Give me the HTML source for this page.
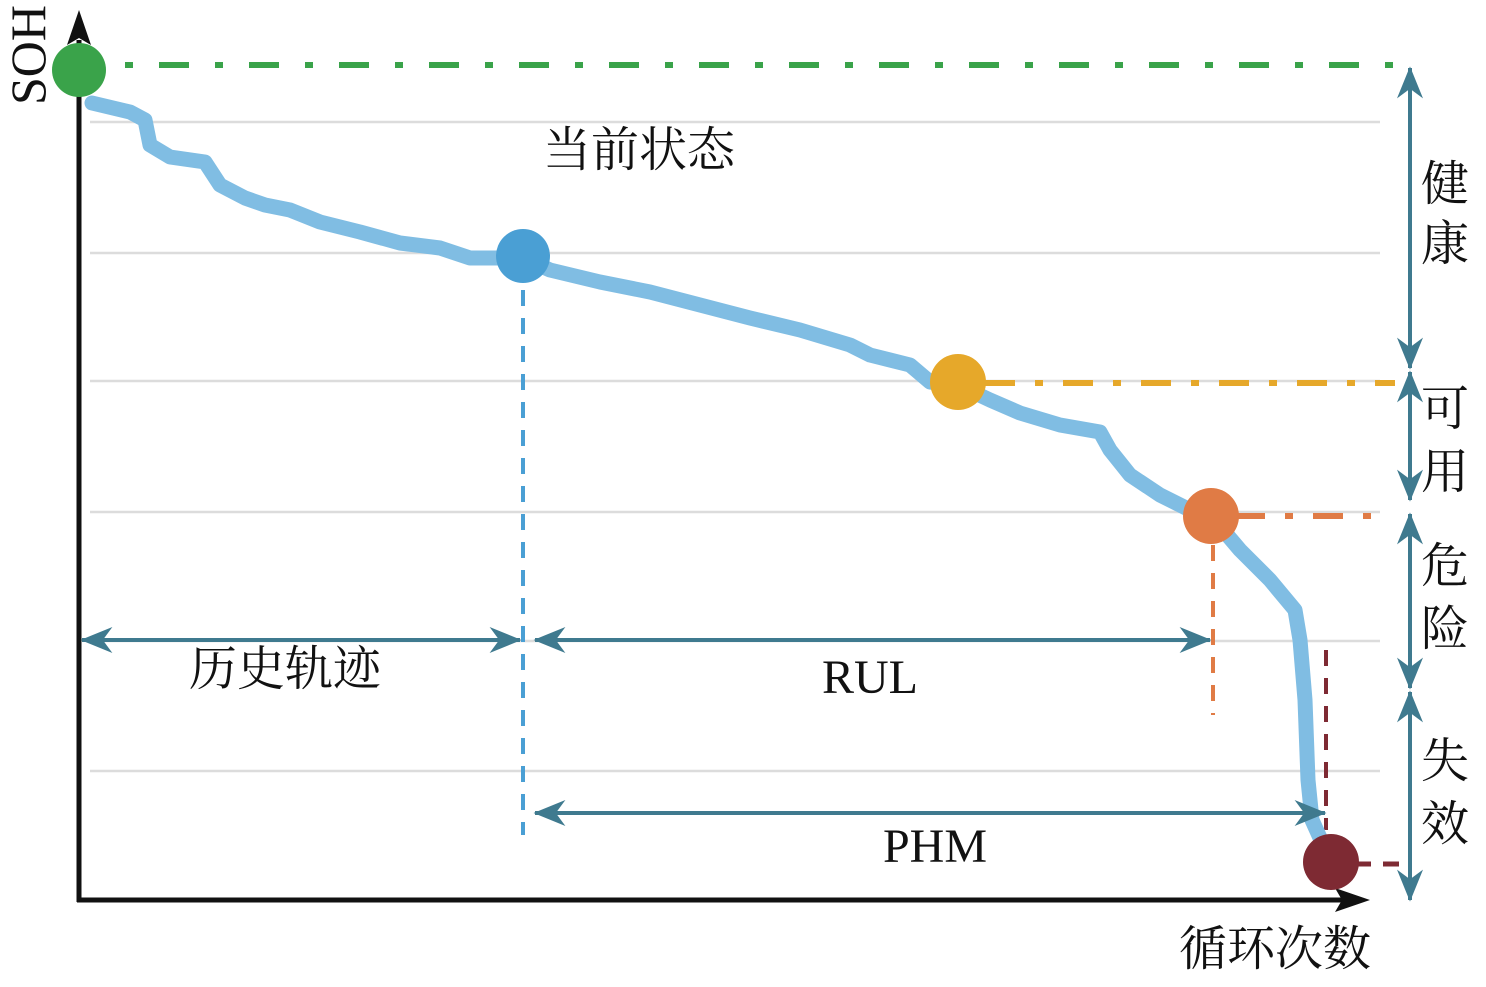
<!DOCTYPE html>
<html><head><meta charset="utf-8"><style>
html,body{margin:0;padding:0;background:#fff;}
svg{display:block;}
text{font-family:"Liberation Serif","Noto Serif CJK SC",serif;fill:#111;}
</style></head><body>
<svg width="1486" height="987" viewBox="0 0 1486 987" xmlns="http://www.w3.org/2000/svg">
<defs>
<marker id="ah" viewBox="0 0 10 10" refX="9.5" refY="5" markerWidth="32" markerHeight="26" markerUnits="userSpaceOnUse" orient="auto-start-reverse" preserveAspectRatio="none"><path d="M0,0 L10,5 L0,10 L3,5 z" fill="#3f7a8f"/></marker>
</defs>
<g stroke="#dcdcdc" stroke-width="2.5">
<line x1="90" y1="122" x2="1380" y2="122"/><line x1="90" y1="253" x2="1380" y2="253"/>
<line x1="90" y1="381" x2="1380" y2="381"/><line x1="90" y1="512" x2="1380" y2="512"/>
<line x1="90" y1="641" x2="1380" y2="641"/><line x1="90" y1="771" x2="1380" y2="771"/>
</g>
<line x1="79" y1="40" x2="79" y2="902" stroke="#111" stroke-width="5"/>
<polygon points="79,10 67,45 79,38 91,45" fill="#111"/>
<line x1="77" y1="900" x2="1345" y2="900" stroke="#111" stroke-width="5"/>
<polygon points="1370,900 1335,888 1342,900 1335,912" fill="#111"/>
<text x="45" y="55" font-size="50" transform="rotate(-90 45 55)" text-anchor="middle">SOH</text>
<line x1="125" y1="65" x2="1415" y2="65" stroke="#3aa34a" stroke-width="6" stroke-dasharray="8,26,30,26"/>
<line x1="985" y1="383" x2="1395" y2="383" stroke="#e6a82a" stroke-width="6" stroke-dasharray="30,20,8,20"/>
<line x1="1235" y1="516" x2="1390" y2="516" stroke="#e07b45" stroke-width="6" stroke-dasharray="30,20,8,20"/>
<line x1="523" y1="290" x2="523" y2="835" stroke="#4a9fd4" stroke-width="4" stroke-dasharray="16,12"/>
<line x1="1213" y1="545" x2="1213" y2="715" stroke="#e07b45" stroke-width="4" stroke-dasharray="16,12"/>
<line x1="1326" y1="650" x2="1326" y2="830" stroke="#7e2a33" stroke-width="4" stroke-dasharray="16,12"/>
<line x1="1355" y1="864" x2="1405" y2="864" stroke="#7e2a33" stroke-width="5" stroke-dasharray="16,12"/>
<polyline fill="none" stroke="#80bde3" stroke-width="15" stroke-linejoin="round" stroke-linecap="round" points="92,103 130,112 145,120 150,145 170,157 205,162 220,185 245,198 265,205 290,210 320,222 360,232 400,243 440,248 470,258 523,258 550,270 600,282 650,292 700,305 750,318 800,330 850,345 870,355 910,365 930,382 958,385 990,400 1020,413 1060,425 1100,432 1110,450 1130,475 1160,495 1190,510 1212,517 1240,550 1270,580 1295,610 1300,640 1305,700 1308,780 1312,820 1330,860"/>
<circle cx="79" cy="70" r="27" fill="#3aa34a"/>
<circle cx="523" cy="256" r="27" fill="#4a9fd4"/>
<circle cx="958" cy="382" r="28" fill="#e6a82a"/>
<circle cx="1211" cy="516" r="28" fill="#e07b45"/>
<circle cx="1331" cy="862" r="28" fill="#7e2a33"/>
<g stroke="#3f7a8f" stroke-width="4" marker-start="url(#ah)" marker-end="url(#ah)">
<line x1="82" y1="640" x2="520" y2="640"/>
<line x1="535" y1="640" x2="1210" y2="640"/>
<line x1="535" y1="813" x2="1325" y2="813"/>
<line x1="1410" y1="68" x2="1410" y2="368"/>
<line x1="1410" y1="372" x2="1410" y2="500"/>
<line x1="1410" y1="514" x2="1410" y2="688"/>
<line x1="1410" y1="692" x2="1410" y2="900"/>
</g>
<g font-size="48">
<text x="543" y="166">当前状态</text>
<text x="285" y="685" text-anchor="middle">历史轨迹</text>
<text x="870" y="693" text-anchor="middle">RUL</text>
<text x="935" y="862" text-anchor="middle">PHM</text>
<text x="1275" y="965" text-anchor="middle">循环次数</text>
<text x="1421" y="200">健</text><text x="1421" y="260">康</text>
<text x="1421" y="425">可</text><text x="1421" y="488">用</text>
<text x="1421" y="582">危</text><text x="1421" y="645">险</text>
<text x="1421" y="777">失</text><text x="1421" y="840">效</text>
</g>
</svg>
</body></html>
